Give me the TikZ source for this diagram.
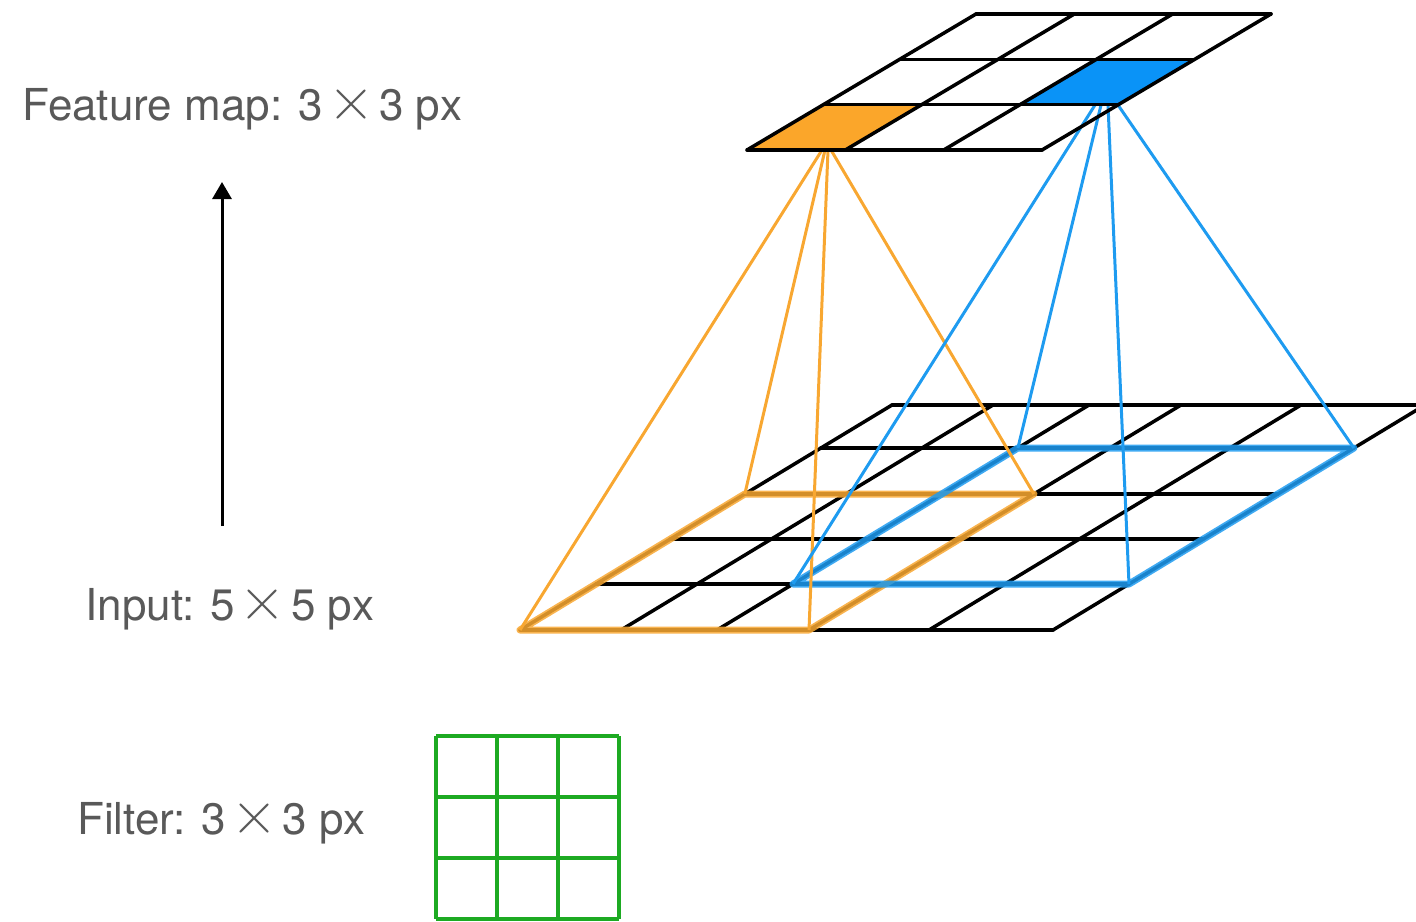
\documentclass[tikz,border=0pt]{standalone}
\usepackage{fontspec}
\setmainfont{TeX Gyre Heros}
\usetikzlibrary{arrows.meta}
\definecolor{txtgray}{HTML}{595959}
\definecolor{forange}{HTML}{FBA62A}
\definecolor{lorange}{HTML}{F8A731}
\definecolor{fblue}{HTML}{0A93F7}
\definecolor{lblue}{HTML}{1E9BF0}
\definecolor{fgreen}{HTML}{1DAA22}
\newcommand{\mytimes}{\hspace{5pt}{\fontfamily{lmr}\fontsize{64}{64}\selectfont ×}\hspace{5pt}}
\begin{document}
\begin{tikzpicture}[x=1pt,y=-1pt,
  gridline/.style={line width=3.5pt, black, line cap=round, line join=round},
  fanorange/.style={line width=3pt, lorange},
  fanblue/.style={line width=3pt, lblue},
  hlorange/.style={line width=7pt, lorange, opacity=0.85, line join=round, line cap=round},
  hlblue/.style={line width=7pt, lblue, opacity=0.85, line join=round, line cap=round},
  filterline/.style={line width=3.5pt, fgreen},
  lbl/.style={font=\fontsize{44}{50}\selectfont, text=txtgray, inner sep=0pt},
  arrowline/.style={line width=3pt, black, -{Triangle[width=19pt,length=17pt]}}]
\useasboundingbox (0,0) rectangle (1416,921);
\begin{scope}
\clip (0,0) rectangle (1416,921);
% ---------- input grid 5x5 ----------
\foreach \yy in {630,584,539,494,448,405} {
  \draw[gridline] ({520+1.6533*(630-\yy)},\yy) -- ({1053+1.6533*(630-\yy)},\yy);
}
\foreach \bx in {520,621,717,809,929,1053} {
  \draw[gridline] (\bx,630) -- (\bx+372,405);
}
% receptive-field corners
\coordinate (oBL) at (520,630);
\coordinate (oBR) at (809,630);
\coordinate (oTR) at (1033.9,494);
\coordinate (oTL) at (744.8,494);
\coordinate (bBL) at (793,584);
\coordinate (bBR) at (1129,584);
\coordinate (bTR) at (1353.9,448);
\coordinate (bTL) at (1017.9,448);
% highlight boxes
\draw[hlorange] (oBL) -- (oBR) -- (oTR) -- (oTL) -- cycle;
\draw[hlblue] (bBL) -- (bBR) -- (bTR) -- (bTL) -- cycle;
% fan start points
\coordinate (oa1) at (822,150);
\coordinate (oa2) at (825,150);
\coordinate (oa3) at (828,150);
\coordinate (oa4) at (831,150);
\coordinate (ba1) at (1095,105);
\coordinate (ba2) at (1101,105);
\coordinate (ba3) at (1108,105);
\coordinate (ba4) at (1118,105);
\draw[fanorange] (oa1) -- (oBL);
\draw[fanorange] (oa2) -- (oTL);
\draw[fanorange] (oa3) -- (oBR);
\draw[fanorange] (oa4) -- (oTR);
\draw[fanblue] (ba1) -- (bBL);
\draw[fanblue] (ba2) -- (bTL);
\draw[fanblue] (ba3) -- (bBR);
\draw[fanblue] (ba4) -- (bTR);
% ---------- feature map 3x3 ----------
\fill[forange] (747,150) -- (845.3,150) -- (921.6,104.7) -- (823.3,104.7) -- cycle;
\fill[fblue] (1020,104.7) -- (1118.3,104.7) -- (1194.6,59.3) -- (1096.3,59.3) -- cycle;
\foreach \yy in {150,104.67,59.33,14} {
  \draw[gridline] ({747+1.684*(150-\yy)},\yy) -- ({1042+1.684*(150-\yy)},\yy);
}
\foreach \bx in {747,845.33,943.67,1042} {
  \draw[gridline] (\bx,150) -- (\bx+229,14);
}
% ---------- filter 3x3 ----------
\foreach \xx in {436,497,558,619} {
  \draw[filterline] (\xx,736) -- (\xx,919);
}
\foreach \yy in {736,797,858,919} {
  \draw[filterline] (436,\yy) -- (619,\yy);
}
\end{scope}
% ---------- arrow ----------
\coordinate (arrS) at (222,526);
\coordinate (arrE) at (222,182);
\draw[arrowline] (arrS) -- (arrE);
% ---------- labels ----------
\node[lbl, anchor=base west] (fm) at (22,120) {Feature map: 3\mytimes 3 px};
\node[lbl, anchor=base west] (inp) at (85,620) {Input: 5\mytimes 5 px};
\node[lbl, anchor=base west] (flt) at (77,834) {Filter: 3\mytimes 3 px};
\end{tikzpicture}
\end{document}
